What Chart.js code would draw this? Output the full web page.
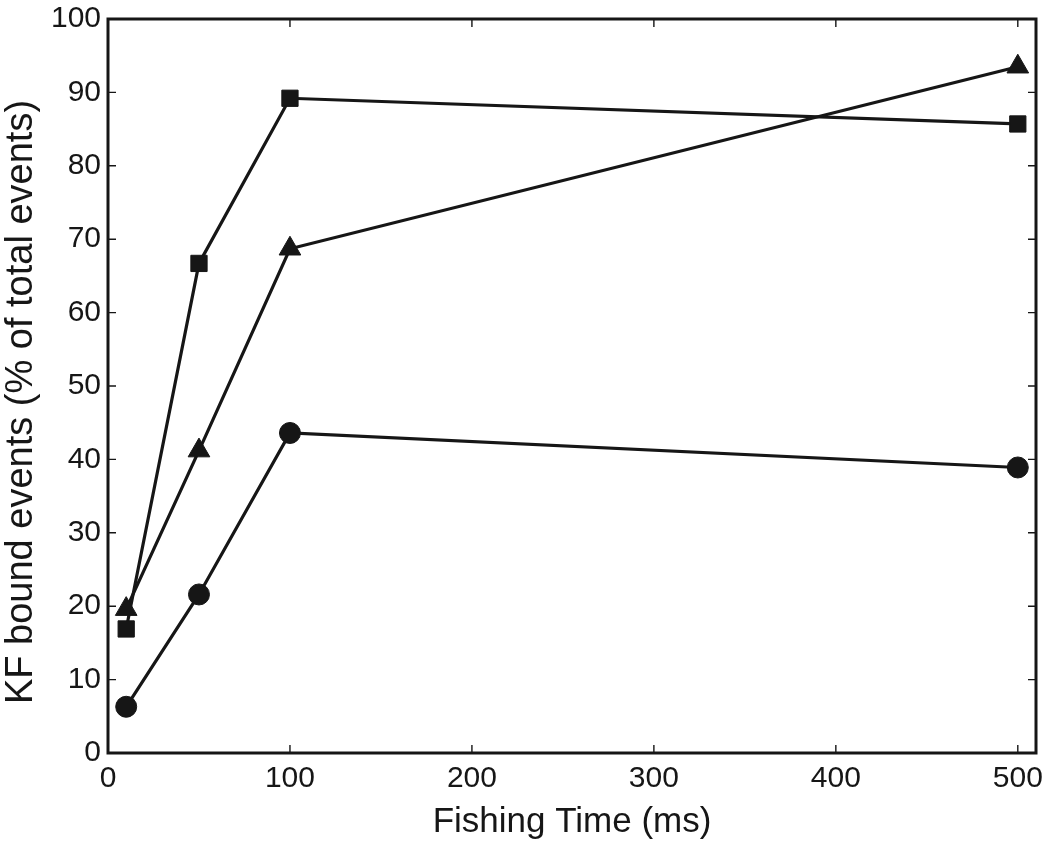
<!DOCTYPE html>
<html>
<head>
<meta charset="utf-8">
<script src="https://cdn.jsdelivr.net/npm/chart.js@4.4.1/dist/chart.umd.min.js"></script>
<style>
  html, body { margin: 0; padding: 0; background: #fff; }
  #wrap { width: 1050px; height: 849px; }
</style>
</head>
<body>
<div id="wrap"><canvas id="c" width="1050" height="849"></canvas></div>
<script>
// fishing time (ms)
const times = [10, 50, 100, 500];
// KF bound events (% of total events)
const squareVals = [16.9, 66.7, 89.2, 85.7];
const triangleVals = [19.6, 41.2, 68.7, 93.5];
const circleVals = [6.3, 21.6, 43.6, 38.9];

const xTicks = [0, 100, 200, 300, 400, 500];
const yTicks = [0, 10, 20, 30, 40, 50, 60, 70, 80, 90, 100];

const yTitle = 'KF bound events (% of total events)';

const INK = '#161616';
const FONT = "'Liberation Sans', Arial, Helvetica, sans-serif";

function series(vals, style, radius) {
  return {
    data: times.map((t, i) => ({ x: t, y: vals[i] })),
    borderColor: INK,
    backgroundColor: INK,
    pointBackgroundColor: INK,
    pointBorderColor: INK,
    pointBorderWidth: 1,
    borderWidth: 3.2,
    pointStyle: style,
    pointRadius: radius,
    tension: 0,
    clip: false,
  };
}

// frame + inward ticks on all four sides, and the y axis title
const framePlugin = {
  id: 'frame',
  afterDraw(chart) {
    const { ctx, chartArea: a, scales: { x, y } } = chart;
    const len = 8;
    ctx.save();
    ctx.strokeStyle = INK;
    ctx.lineWidth = 1.4;
    ctx.beginPath();
    xTicks.forEach((v) => {
      const px = x.getPixelForValue(v);
      ctx.moveTo(px, a.bottom); ctx.lineTo(px, a.bottom - len);
      ctx.moveTo(px, a.top); ctx.lineTo(px, a.top + len);
    });
    yTicks.forEach((v) => {
      const py = y.getPixelForValue(v);
      ctx.moveTo(a.left, py); ctx.lineTo(a.left + len, py);
      ctx.moveTo(a.right, py); ctx.lineTo(a.right - len, py);
    });
    ctx.stroke();
    ctx.lineWidth = 3;
    ctx.strokeRect(a.left, a.top, a.right - a.left, a.bottom - a.top);

    // y title, a little below the axis centre as in the original
    ctx.translate(22, (a.top + a.bottom) / 2 + 16);
    ctx.rotate(-Math.PI / 2);
    ctx.fillStyle = INK;
    ctx.font = `38px ${FONT}`;
    ctx.textAlign = 'center';
    ctx.textBaseline = 'middle';
    ctx.fillText(yTitle, 0, 0);
    ctx.restore();
  },
};

new Chart(document.getElementById('c').getContext('2d'), {
  type: 'line',
  data: {
    datasets: [
      series(circleVals, 'circle', 10.5),
      series(triangleVals, 'triangle', 12.5),
      series(squareVals, 'rect', 11.5),
    ],
  },
  options: {
    responsive: false,
    animation: false,
    layout: { padding: { top: 19, right: 14, left: 0, bottom: 0 } },
    plugins: { legend: { display: false }, tooltip: { enabled: false } },
    scales: {
      x: {
        type: 'linear',
        min: 0, max: 510,
        afterBuildTicks: (s) => { s.ticks = xTicks.map((v) => ({ value: v })); },
        afterFit: (s) => { s.height = 96; },
        ticks: { color: INK, font: { family: FONT, size: 30 }, padding: 0, maxRotation: 0 },
        grid: { display: false },
        border: { display: false },
        title: {
          display: true, text: 'Fishing Time (ms)', color: INK,
          font: { family: FONT, size: 35 }, padding: { top: 0, bottom: 6 },
        },
      },
      y: {
        min: 0, max: 100,
        afterBuildTicks: (s) => { s.ticks = yTicks.map((v) => ({ value: v })); },
        afterFit: (s) => { s.width = 108; },
        ticks: { color: INK, font: { family: FONT, size: 30 }, padding: -1 },
        grid: { display: false },
        border: { display: false },
      },
    },
  },
  plugins: [framePlugin],
});
</script>
</body>
</html>
